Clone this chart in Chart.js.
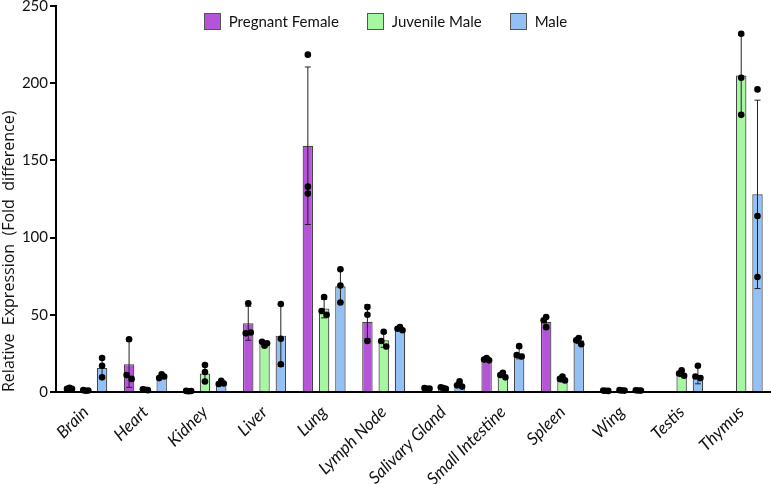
<!DOCTYPE html>
<html>
<head>
<meta charset="utf-8">
<script src="https://cdn.jsdelivr.net/npm/chart.js@4/dist/chart.umd.min.js"></script>
<style>
  html, body { margin: 0; padding: 0; background: #fff; }
  #wrap { position: relative; width: 771px; height: 484px; }
  #legend {
    position: absolute; top: 12px; left: 0; width: 771px;
    display: flex; justify-content: center; gap: 28px;
    font-family: Lato, 'Open Sans', sans-serif; font-size: 15px; color: #111;
  }
  .item { display: flex; align-items: center; gap: 8px; }
  .swatch { width: 15px; height: 15px; border: 1px solid #555; }
</style>
</head>
<body>
<div id="wrap">
  <canvas id="chart"></canvas>
  <div id="legend"></div>
</div>
<script>
const CATEGORIES = ['Brain', 'Heart', 'Kidney', 'Liver', 'Lung', 'Lymph Node', 'Salivary Gland',
  'Small Intestine', 'Spleen', 'Wing', 'Testis', 'Thymus'];
const Y_TICKS = [0, 50, 100, 150, 200, 250];

const SERIES_NAMES  = ['Pregnant Female', 'Juvenile Male', 'Male'];
const SERIES_COLORS = ['#b553d9', '#a6f6a2', '#93c1f6'];

// bar heights (means)
const PREGNANT_FEMALE = [2.3, 18, 0.6, 44.5, 159.5, 45.5, 2.2, 21, 45.5, 0.8, null, null];
const JUVENILE_MALE   = [1.0, 1.5, 12, 31, 54, 33.5, 2.5, 11, 8, 1, 11.5, 205];
const MALE            = [15.5, 10, 5.8, 36.5, 68.5, 41, 4.5, 25, 33.5, 1, 10.8, 128];

// error bars (SD)
const PREGNANT_FEMALE_SD = [0.5, 15, 0.2, 11, 51, 11, 0.4, 1, 3, 0.1, null, null];
const JUVENILE_MALE_SD   = [0.3, 0.3, 5.5, 1.5, 6, 4.5, 0.3, 1.5, 1.5, 0.2, 1.5, 26];
const MALE_SD            = [6, 1, 1, 20, 10.5, 1, 1.5, 3.5, 2, 0.2, 5.5, 61];

// individual replicates
const PREGNANT_FEMALE_PTS = [[2.8, 2.0, 2.1], [34.2, 11, 8.5], [0.5, 0.7, 0.6], [57.5, 38, 38.5],
  [218.5, 133, 128.5], [55, 50, 33], [2, 2.6, 2.2], [22, 21, 20.5], [48.5, 46.5, 42],
  [0.8, 0.9, 0.7], [], []];
const JUVENILE_MALE_PTS = [[0.8, 1.2, 1.0], [1.5, 1.8, 1.2], [17.5, 13, 6.8], [30, 32.5, 31.5],
  [61.5, 52.5, 50], [39, 33, 29.5], [2.6, 3, 2], [12.5, 11, 9.5], [10, 8.5, 7.5],
  [1, 1.2, 0.9], [14, 12, 10.5], [232, 203.5, 179.5]];
const MALE_PTS = [[22, 17, 9.5], [11.4, 9, 10], [7.3, 5.2, 5.5], [57, 34.5, 18],
  [79.5, 69, 58], [42, 41, 40], [7, 4.3, 3.5], [29.7, 24, 23], [35, 33.5, 31],
  [1, 1.1, 0.9], [17, 10, 9], [196, 114, 74.5]];

const MEANS = [PREGNANT_FEMALE, JUVENILE_MALE, MALE];
const SDS   = [PREGNANT_FEMALE_SD, JUVENILE_MALE_SD, MALE_SD];
const PTS   = [PREGNANT_FEMALE_PTS, JUVENILE_MALE_PTS, MALE_PTS];

const JITTER = [0, -2.5, 2.5];

// html legend
document.getElementById('legend').innerHTML = SERIES_NAMES.map((n, i) =>
  `<div class="item"><span class="swatch" style="background:${SERIES_COLORS[i]}"></span>${n}</div>`
).join('');

const errorDots = {
  id: 'errorDots',
  afterDatasetsDraw(chart) {
    const ctx = chart.ctx;
    const y = chart.scales.y;
    ctx.save();
    MEANS.forEach((means, i) => {
      const meta = chart.getDatasetMeta(i);
      means.forEach((m, j) => {
        if (m == null) return;
        const bar = meta.data[j];
        const x = bar.x;
        const sd = SDS[i][j] || 0;
        const yt = y.getPixelForValue(m + sd);
        const yb = y.getPixelForValue(Math.max(m - sd, 0));
        ctx.strokeStyle = '#222';
        ctx.lineWidth = 1;
        ctx.beginPath();
        ctx.moveTo(x, yt); ctx.lineTo(x, yb);
        ctx.moveTo(x - 3, yt); ctx.lineTo(x + 3, yt);
        ctx.moveTo(x - 3, yb); ctx.lineTo(x + 3, yb);
        ctx.stroke();
        ctx.fillStyle = '#000';
        const py = PTS[i][j].map(v => y.getPixelForValue(v));
        py.forEach((p, k) => {
          // spread out only the dots that would overlap
          const crowded = py.some((q, n) => n !== k && Math.abs(q - p) < 6);
          ctx.beginPath();
          ctx.arc(x + (crowded ? JITTER[k] : 0), p, 3.3, 0, Math.PI * 2);
          ctx.fill();
        });
      });
    });
    ctx.restore();
  }
};

Chart.defaults.font.family = 'Lato, "Open Sans", sans-serif';
Chart.defaults.color = '#111';

new Chart(document.getElementById('chart'), {
  type: 'bar',
  data: {
    labels: CATEGORIES,
    datasets: MEANS.map((m, i) => ({
      label: SERIES_NAMES[i],
      data: m,
      backgroundColor: SERIES_COLORS[i],
      borderColor: '#444',
      borderWidth: 1.2,
      categoryPercentage: 0.82,
      barPercentage: 0.64,
    }))
  },
  options: {
    responsive: true,
    maintainAspectRatio: false,
    animation: false,
    layout: { padding: { top: 6, right: 0, left: 0, bottom: 0 } },
    plugins: { legend: { display: false }, tooltip: { enabled: false } },
    scales: {
      x: {
        grid: { display: false },
        border: { color: '#000', width: 2 },
        ticks: {
          maxRotation: 45, minRotation: 45, padding: 2,
          font: { size: 17, style: 'italic' }, color: '#111',
        },
        afterFit(scale) { scale.height = 92; },
      },
      y: {
        min: 0, max: 250,
        afterBuildTicks(scale) { scale.ticks = Y_TICKS.map(v => ({ value: v })); },
        grid: { display: true, drawOnChartArea: false, drawTicks: true, tickLength: 6, color: '#000', lineWidth: 2 },
        border: { color: '#000', width: 2 },
        ticks: { padding: 2, font: { size: 15 }, color: '#111' },
        title: {
          display: true, text: 'Relative  Expression  (Fold  difference)',
          align: 'start', font: { size: 16, family: '"Open Sans", sans-serif' }, color: '#111',
          padding: { top: 0, bottom: 0 },
        },
        afterFit(scale) { scale.width = 56; scale.paddingTop = 0; scale.paddingBottom = 0; },
      }
    }
  },
  plugins: [errorDots]
});
</script>
</body>
</html>
